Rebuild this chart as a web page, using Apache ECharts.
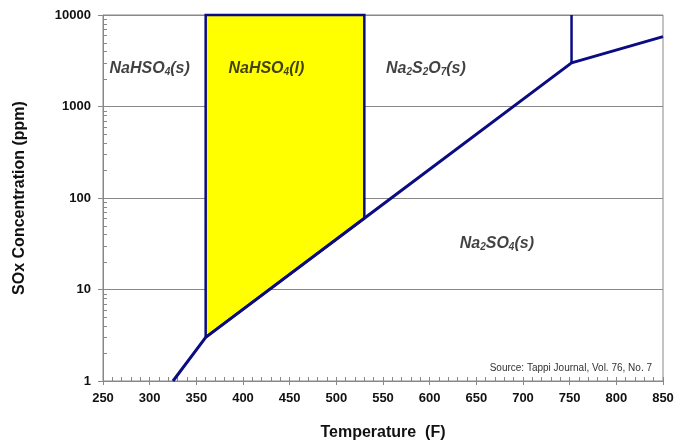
<!DOCTYPE html>
<html>
<head>
<meta charset="utf-8">
<script src="https://cdn.jsdelivr.net/npm/echarts@6/dist/echarts.min.js"></script>
<style>
  html, body { margin: 0; padding: 0; background: #fff; }
  #chart { width: 681px; height: 441px; }
</style>
</head>
<body>
<div id="chart"></div>
<script>
// Na2SO4 / NaHSO4 / Na2S2O7 phase diagram: SOx concentration vs temperature

// Temperature axis (F)
const xMin = 250, xMax = 850, xStep = 50, xMinorStep = 10;
// Concentration axis (ppm, log scale)
const yTicks = [1, 10, 100, 1000, 10000];

// Lower boundary: Na2SO4(s) below this line
const boundaryT   = [325, 360, 530, 752, 850];
const boundaryPpm = [1,   3,   60,  3000, 5800];

// Liquid NaHSO4 region (closed polygon)
const liquidT   = [360, 360,   530,   530];
const liquidPpm = [3,   10000, 10000, 60];

// Upper Na2S2O7 boundary at 752 F
const pyroT   = [752,  752];
const pyroPpm = [3000, 10000];

// Phase labels: position in (T, ppm) and rich text
const phaseT     = [300, 425, 596, 672];
const phasePpm   = [2600, 2600, 2600, 32];
const phaseTexts = [
  '{b|NaHSO}{s|4}{b|(s)}',
  '{b|NaHSO}{s|4}{b|(l)}',
  '{b|Na}{s|2}{b|S}{s|2}{b|O}{s|7}{b|(s)}',
  '{b|Na}{s|2}{b|SO}{s|4}{b|(s)}'
];

const sourceText = 'Source: Tappi Journal, Vol. 76, No. 7';

const navy = '#0b0b82';
const gray = '#888888';
const font = '"Liberation Sans", Arial, sans-serif';

// log-axis minor tick values (2..9 in each decade)
const yMinor = [];
for (let d = 0; d < yTicks.length - 1; d++) {
  for (let k = 2; k <= 9; k++) yMinor.push(yTicks[d] * k);
}

const chart = echarts.init(document.getElementById('chart'), null, { renderer: 'canvas' });

const option = {
  animation: false,
  backgroundColor: '#ffffff',
  grid: {
    left: 103, right: 18, top: 15, bottom: 60,
    containLabel: false, outerBoundsMode: 'none',
    show: true, borderColor: gray, borderWidth: 1
  },
  xAxis: [
    {
      type: 'value', min: xMin, max: xMax, interval: xStep,
      name: 'Temperature  (F)', nameLocation: 'middle', nameGap: 44,
      nameTextStyle: { fontFamily: font, fontWeight: 'bold', fontSize: 16, color: '#111' },
      axisLine: { lineStyle: { color: gray, width: 1 } },
      axisTick: { show: true, length: 4, lineStyle: { color: gray } },
      axisLabel: { fontFamily: font, fontWeight: 'bold', fontSize: 13, color: '#111', margin: 11 },
      splitLine: { show: false }
    },
    {
      type: 'value', min: xMin, max: xMax, interval: xMinorStep, position: 'bottom',
      axisLine: { show: false },
      axisTick: { show: true, inside: true, length: 4, lineStyle: { color: gray } },
      axisLabel: { show: false },
      splitLine: { show: false }
    }
  ],
  yAxis: {
    type: 'log', logBase: 10, min: yTicks[0], max: yTicks[yTicks.length - 1],
    name: 'SOx Concentration (ppm)', nameLocation: 'middle', nameGap: 75, nameRotate: 90,
    nameTextStyle: { fontFamily: font, fontWeight: 'bold', fontSize: 16, color: '#111' },
    axisLine: { show: true, lineStyle: { color: gray, width: 1 } },
    axisTick: { show: true, length: 5, lineStyle: { color: gray } },
    axisLabel: { fontFamily: font, fontWeight: 'bold', fontSize: 13, color: '#111', margin: 12,
                 formatter: v => String(Math.round(v)) },
    splitLine: { show: true, lineStyle: { color: gray, width: 1 } }
  },
  series: [
    {
      // minor ticks on the log axis
      type: 'custom',
      coordinateSystem: 'cartesian2d',
      silent: true,
      z: 1,
      data: yMinor.map(v => [xMin, v]),
      renderItem: (params, api) => {
        const p = api.coord([api.value(0), api.value(1)]);
        return {
          type: 'line',
          shape: { x1: p[0], y1: Math.round(p[1]) + 0.5, x2: p[0] + 4, y2: Math.round(p[1]) + 0.5 },
          style: { stroke: gray, lineWidth: 1 }
        };
      }
    },
    {
      // NaHSO4 liquid region
      type: 'custom',
      coordinateSystem: 'cartesian2d',
      silent: true,
      z: 3,
      data: [0],
      renderItem: (params, api) => {
        const pts = liquidT.map((t, i) => api.coord([t, liquidPpm[i]]));
        return {
          type: 'polygon',
          shape: { points: pts },
          style: { fill: '#ffff00', stroke: navy, lineWidth: 2.5, lineJoin: 'miter' }
        };
      }
    },
    {
      type: 'line',
      data: boundaryT.map((t, i) => [t, boundaryPpm[i]]),
      showSymbol: false, symbol: 'none',
      lineStyle: { color: navy, width: 3 },
      z: 4
    },
    {
      type: 'line',
      data: pyroT.map((t, i) => [t, pyroPpm[i]]),
      showSymbol: false, symbol: 'none',
      lineStyle: { color: navy, width: 2.5 },
      z: 4
    },
    {
      // phase labels
      type: 'scatter',
      symbolSize: 0,
      silent: true,
      z: 5,
      data: phaseT.map((t, i) => ({
        value: [t, phasePpm[i]],
        label: {
          show: true, position: 'inside',
          formatter: phaseTexts[i],
          rich: {
            b: { fontFamily: font, fontWeight: 'bold', fontStyle: 'italic', fontSize: 16, color: '#111', lineHeight: 20 },
            s: { fontFamily: font, fontWeight: 'bold', fontStyle: 'italic', fontSize: 10, color: '#111', lineHeight: 20, padding: [7, 0, 0, 0] }
          }
        }
      }))
    }
  ],
  graphic: [
    {
      type: 'text', right: 29, top: 363,
      style: { text: sourceText, fontFamily: font, fontSize: 10, fill: '#333' }
    }
  ]
};

chart.setOption(option);
</script>
</body>
</html>
